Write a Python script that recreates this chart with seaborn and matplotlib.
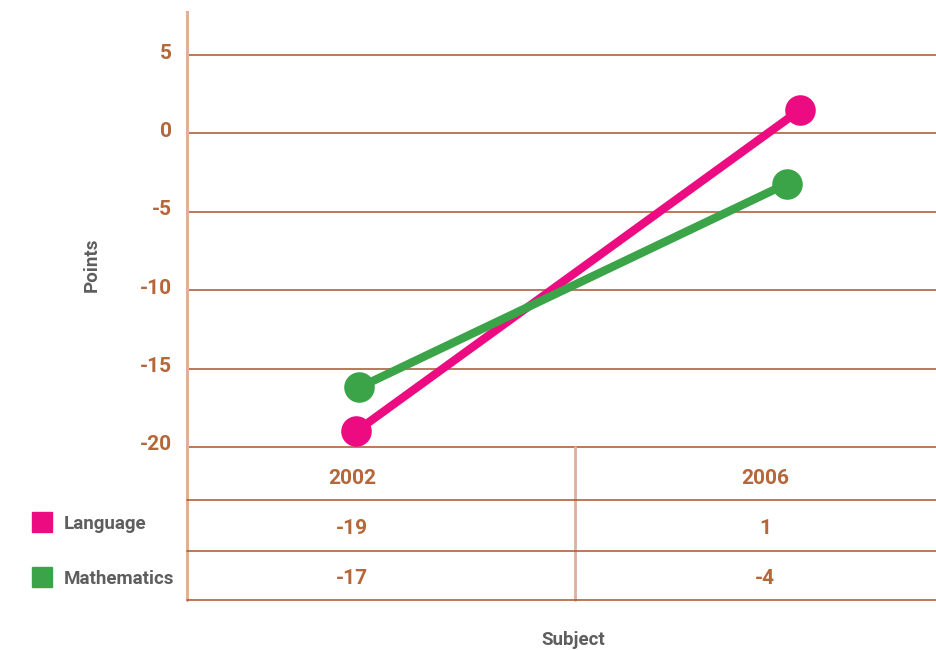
import pandas as pd
import matplotlib.pyplot as plt
import matplotlib.patches as mpatches
import matplotlib.transforms as mtransforms
import seaborn as sns

# Data
years = ['2002', '2006']
subjects = ['Language', 'Mathematics']
language_points = [-19.0, 1.5]
mathematics_points = [-16.2, -3.2]
language_table = ['-19', '1']
mathematics_table = ['-17', '-4']
y_ticks = [5, 0, -5, -10, -15, -20]

# small horizontal nudges of the markers, as in the original
dodge = {'Language': [0.0, 1.02], 'Mathematics': [0.007, 0.99]}

colors = {'Language': '#EC0B80', 'Mathematics': '#3BA348'}
brown = '#B5673A'
grid_col = '#A9542C'
axis_col = '#DDB19A'
gray = '#5E5E5E'

sns.set_style('white')
plt.rcParams['font.family'] = ['Roboto', 'DejaVu Sans']
plt.rcParams['font.weight'] = 'bold'

W, H = 937, 650
fig = plt.figure(figsize=(W / 100, H / 100), dpi=100)


def fx(px):
    return px / W


def fy(py):
    return 1 - py / H


rows = []
for subj, vals in zip(subjects, [language_points, mathematics_points]):
    for i, v in enumerate(vals):
        rows.append({'subject': subj, 'year': years[i], 'pos': dodge[subj][i], 'value': v})
df = pd.DataFrame(rows)

# main plot area
ax = fig.add_axes([fx(187), fy(447), fx(750), (447 - 12) / H])
sns.lineplot(data=df, x='pos', y='value', hue='subject', palette=colors,
             marker='o', markersize=22, markeredgewidth=0, linewidth=6,
             legend=False, ax=ax, zorder=3)
ax.set_xlim(-0.389, 1.335)
ax.set_ylim(-20, 7.75)
ax.set_yticks(y_ticks)
ax.set_yticklabels([str(t) for t in y_ticks], color=brown, fontsize=15, fontweight='bold')
ax.tick_params(axis='y', length=0, pad=11)
shift = mtransforms.ScaledTranslation(0, 4 / 100, fig.dpi_scale_trans)
for lbl in ax.get_yticklabels():
    lbl.set_transform(lbl.get_transform() + shift)
ax.set_xticks([])
ax.set_xlabel('')
ax.set_ylabel('')
for t in y_ticks:
    ax.axhline(t, color=grid_col, lw=1.1, zorder=1, clip_on=False)
for s in ['top', 'right', 'bottom']:
    ax.spines[s].set_visible(False)
ax.spines['left'].set_color(axis_col)
ax.spines['left'].set_linewidth(2.2)

# data table under the chart
tab = fig.add_axes([fx(187), fy(600), fx(750), (600 - 447) / H])
tab.set_xlim(0, 750)
tab.set_ylim(600, 447)
tab.axis('off')
tab.plot([0, 0], [447, 600], color=axis_col, lw=2.2, clip_on=False)
tab.plot([388, 388], [447, 600], color=axis_col, lw=2, clip_on=False)
for yy in [500, 551, 600]:
    tab.plot([0, 750], [yy, yy], color=grid_col, lw=1.1, clip_on=False)

col_x = [165, 578]
for i, yr in enumerate(years):
    tab.text(col_x[i], 479, yr, ha='center', va='center', color=brown, fontsize=15, fontweight='bold')
    tab.text(col_x[i], 528, language_table[i], ha='center', va='center', color=brown, fontsize=15, fontweight='bold')
    tab.text(col_x[i], 579, mathematics_table[i], ha='center', va='center', color=brown, fontsize=15, fontweight='bold')

# legend keys next to the table rows
for subj, yc in zip(subjects, [522, 577]):
    fig.patches.append(mpatches.Rectangle((fx(32), fy(yc + 10)), fx(20), 20 / H,
                                          transform=fig.transFigure, color=colors[subj]))
    fig.text(fx(64), fy(yc + 2), subj, ha='left', va='center', color=gray, fontsize=13.5, fontweight='bold')

fig.text(fx(92), fy(265), 'Points', rotation=90, ha='center', va='center', color=gray, fontsize=13.5, fontweight='bold')
fig.text(fx(573), fy(640), 'Subject', ha='center', va='center', color=gray, fontsize=13.5, fontweight='bold')

fig.savefig('out.png', dpi=100)
